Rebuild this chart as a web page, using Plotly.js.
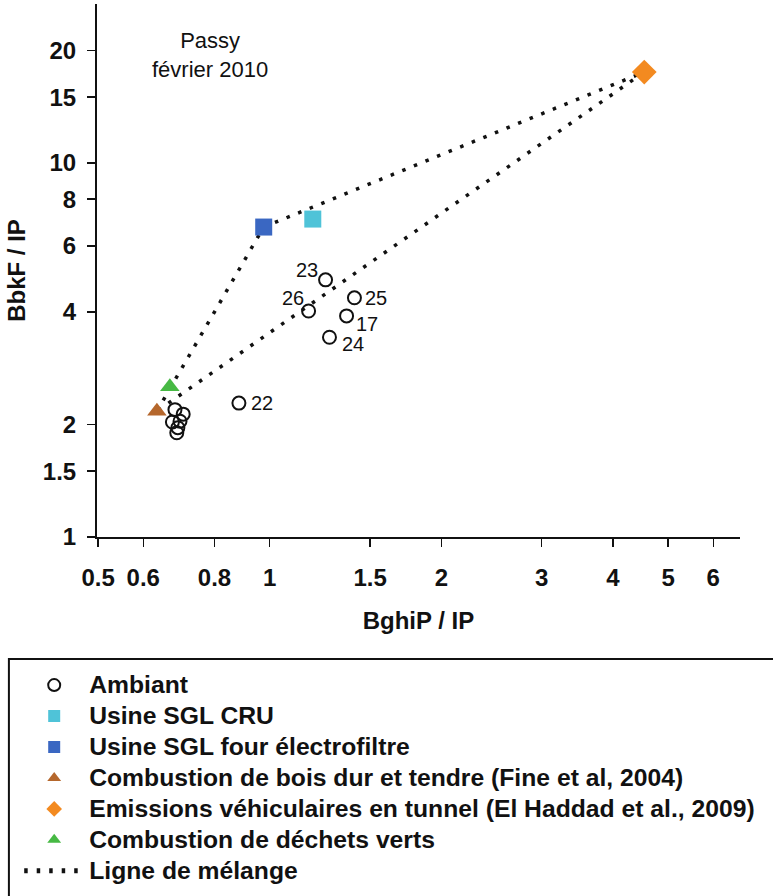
<!DOCTYPE html>
<html>
<head>
<meta charset="utf-8">
<script src="https://cdn.plot.ly/plotly-3.0.1.min.js"></script>
<style>html,body{margin:0;padding:0;background:#fff;} #chart{width:773px;height:896px;}</style>
</head>
<body>
<div id="chart"></div>
<script>
// ---- Data ----
const ambiantX = [1.253, 1.170, 1.408, 1.364, 1.273, 0.883, 0.682, 0.705, 0.675, 0.696, 0.690, 0.687];
const ambiantY = [4.87, 4.02, 4.36, 3.90, 3.42, 2.28, 2.19, 2.13, 2.03, 2.04, 1.96, 1.90];
const ambiantLabels = ['23', '26', '25', '17', '24', '22', '', '', '', '', '', ''];

const cruX = [1.19];     const cruY = [7.08];
const fourX = [0.976];   const fourY = [6.74];
const boisX = [0.634];   const boisY = [2.17];
const tunnelX = [4.54];  const tunnelY = [17.5];
const vertsX = [0.668];  const vertsY = [2.52];

const xTickVals = [0.5, 0.6, 0.8, 1, 1.5, 2, 3, 4, 5, 6];
const xTickText = ['0.5', '0.6', '0.8', '1', '1.5', '2', '3', '4', '5', '6'];
const yTickVals = [1, 1.5, 2, 4, 6, 8, 10, 15, 20];
const yTickText = ['1', '1.5', '2', '4', '6', '8', '10', '15', '20'];

const names = {
  amb: 'Ambiant',
  cru: 'Usine SGL CRU',
  four: 'Usine SGL four électrofiltre',
  bois: 'Combustion de bois dur et tendre (Fine et al, 2004)',
  tunnel: 'Emissions véhiculaires en tunnel (El Haddad et al., 2009)',
  verts: 'Combustion de déchets verts',
  mix: 'Ligne de mélange'
};
const big = s => '<span style="font-size:24.7px">' + s + '</span>';

// label offsets (style, px)
const labelShift = {'23': [-19, 10], '26': [-16, 13], '25': [22, 0], '17': [20, -8], '24': [24, -7], '22': [23, 0]};

// mixing line: bois -> four -> tunnel -> bois
const mixX = [boisX[0], fourX[0], tunnelX[0], boisX[0]];
const mixY = [boisY[0], fourY[0], tunnelY[0], boisY[0]];

const FONT = 'Liberation Sans, Arial, sans-serif';

const traces = [
  {x: mixX, y: mixY, mode: 'lines', name: big(names.mix), legendrank: 7,
   line: {color: '#111', width: 3.5, dash: '3.5px,9px'}},
  {x: ambiantX, y: ambiantY, mode: 'markers', name: big(names.amb), legendrank: 1,
   marker: {symbol: 'circle-open', size: 13, color: '#111', line: {width: 2, color: '#111'}}},
  {x: cruX, y: cruY, mode: 'markers', name: big(names.cru), legendrank: 2,
   marker: {symbol: 'square', size: 17, color: '#4fc3d8'}},
  {x: fourX, y: fourY, mode: 'markers', name: big(names.four), legendrank: 3,
   marker: {symbol: 'square', size: 17, color: '#3a67c2'}},
  {x: boisX, y: boisY, mode: 'markers', name: big(names.bois), legendrank: 4,
   marker: {symbol: 'triangle-up', size: 17, color: '#b5672c'}},
  {x: tunnelX, y: tunnelY, mode: 'markers', name: big(names.tunnel), legendrank: 5,
   marker: {symbol: 'diamond', size: 19, color: '#f38a20'}},
  {x: vertsX, y: vertsY, mode: 'markers', name: big(names.verts), legendrank: 6,
   marker: {symbol: 'triangle-up', size: 17, color: '#47b944'}}
];

const annotations = [];
ambiantLabels.forEach((t, i) => {
  if (!t) return;
  const s = labelShift[t] || [0, 0];
  annotations.push({x: Math.log10(ambiantX[i]), y: Math.log10(ambiantY[i]), xref: 'x', yref: 'y',
    text: t, showarrow: false, xshift: s[0], yshift: s[1], xanchor: 'center', yanchor: 'middle',
    font: {family: FONT, size: 20, color: '#111'}});
});
annotations.push({x: 0.176, y: 0.904, xref: 'paper', yref: 'paper', text: 'Passy<br>février 2010',
  showarrow: false, align: 'center', xanchor: 'center', yanchor: 'middle',
  font: {family: FONT, size: 22, color: '#111'}});

const layout = {
  width: 773, height: 896,
  margin: {l: 97, r: 33, t: 4, b: 359, autoexpand: false},
  paper_bgcolor: '#fff', plot_bgcolor: '#fff',
  showlegend: true,
  font: {family: FONT, color: '#111'},
  xaxis: {
    type: 'log', range: [-0.303, 0.825], automargin: false,
    tickvals: xTickVals, ticktext: xTickText,
    tickfont: {family: FONT, size: 24, weight: 700, color: '#111'},
    ticks: 'outside', ticklen: 8, tickwidth: 1.5, tickcolor: '#111',
    ticklabelstandoff: 10,
    showline: true, linecolor: '#111', linewidth: 2,
    showgrid: false, zeroline: false,
    title: {text: 'BghiP / IP', font: {family: FONT, size: 24, weight: 700, color: '#111'}, standoff: 22}
  },
  yaxis: {
    type: 'log', range: [0, 1.425], automargin: false,
    tickvals: yTickVals, ticktext: yTickText,
    tickfont: {family: FONT, size: 24, weight: 700, color: '#111'},
    ticks: 'outside', ticklen: 8, tickwidth: 1.5, tickcolor: '#111',
    ticklabelstandoff: 6,
    showline: true, linecolor: '#111', linewidth: 2,
    showgrid: false, zeroline: false,
    title: {text: 'BbkF / IP', font: {family: FONT, size: 24, weight: 700, color: '#111'}, standoff: 10}
  },
  legend: {
    x: -0.121, xanchor: 'left', y: -0.2394, yanchor: 'top',
    orientation: 'v', itemwidth: 60, itemsizing: 'constant',
    bgcolor: 'rgba(0,0,0,0)', borderwidth: 0,
    font: {family: FONT, size: 21.5, weight: 700, color: '#111'}
  },
  shapes: [{type: 'rect', xref: 'paper', yref: 'paper', x0: -0.137, x1: 1.08, y0: -0.229, y1: -0.70,
    line: {color: '#111', width: 2}, fillcolor: 'rgba(0,0,0,0)', layer: 'below'}],
  annotations: annotations
};

Plotly.newPlot('chart', traces, layout, {displayModeBar: false, staticPlot: true});
</script>
</body>
</html>
